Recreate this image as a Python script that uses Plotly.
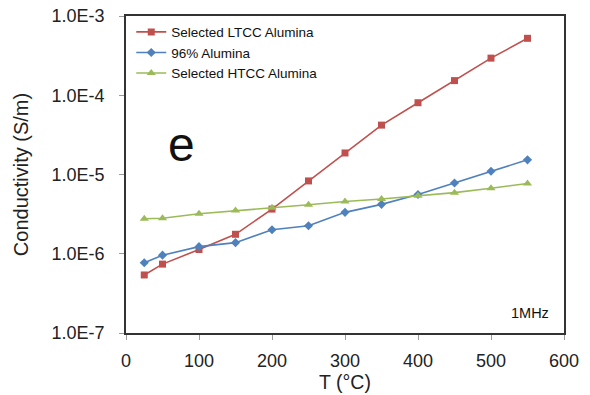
import plotly.graph_objects as go

temps = [25, 50, 100, 150, 200, 250, 300, 350, 400, 450, 500, 550]
ltcc = [5.4e-7, 7.4e-7, 1.13e-6, 1.76e-6, 3.66e-6, 8.3e-6, 1.87e-5, 4.2e-5, 8.05e-5, 1.53e-4, 2.94e-4, 5.23e-4]
alumina96 = [7.7e-7, 9.6e-7, 1.23e-6, 1.38e-6, 2.01e-6, 2.26e-6, 3.33e-6, 4.2e-6, 5.6e-6, 7.8e-6, 1.1e-5, 1.53e-5]
htcc = [2.77e-6, 2.8e-6, 3.2e-6, 3.52e-6, 3.8e-6, 4.16e-6, 4.57e-6, 4.9e-6, 5.4e-6, 5.9e-6, 6.7e-6, 7.7e-6]

series_names = ["Selected LTCC Alumina", "96% Alumina", "Selected HTCC Alumina"]
y_tickvals = [1e-7, 1e-6, 1e-5, 1e-4, 1e-3]
y_ticktext = ["1.0E-7", "1.0E-6", "1.0E-5", "1.0E-4", "1.0E-3"]
x_tickvals = [0, 100, 200, 300, 400, 500, 600]

font = "Liberation Sans, Arial, sans-serif"

fig = go.Figure()
fig.add_trace(go.Scatter(x=temps, y=ltcc, name=series_names[0], mode="lines+markers",
                         line=dict(color="#C0504D", width=1.6),
                         marker=dict(symbol="square", size=7, color="#C0504D")))
fig.add_trace(go.Scatter(x=temps, y=alumina96, name=series_names[1], mode="lines+markers",
                         line=dict(color="#4F81BD", width=1.6),
                         marker=dict(symbol="diamond", size=7, color="#4F81BD")))
fig.add_trace(go.Scatter(x=temps, y=htcc, name=series_names[2], mode="lines+markers",
                         line=dict(color="#9BBB59", width=1.6),
                         marker=dict(symbol="triangle-up", size=8, color="#9BBB59")))

fig.update_layout(
    width=590, height=395,
    margin=dict(l=126, r=26, t=16, b=62),
    paper_bgcolor="white", plot_bgcolor="white",
    font=dict(family=font, color="#222"),
    legend=dict(x=0.012, y=0.998, xanchor="left", yanchor="top",
                font=dict(size=13.5, family=font, color="#111"),
                bgcolor="rgba(0,0,0,0)", itemwidth=30, tracegroupgap=0),
)
fig.add_annotation(text="e", x=(181 - 126) / 438, y=(333 - 144) / 317, xref="paper", yref="paper",
                   showarrow=False, xanchor="center", yanchor="middle",
                   font=dict(size=48, family=font, color="#111"))
fig.add_annotation(text="1MHz", x=(551 - 126) / 438, y=(333 - 313) / 317, xref="paper", yref="paper",
                   showarrow=False, xanchor="right", yanchor="middle",
                   font=dict(size=14.5, family=font, color="#111"))

fig.update_xaxes(range=[0, 600], tickvals=x_tickvals, showgrid=False, zeroline=False,
                 showline=True, linecolor="#333", linewidth=1.6, mirror=True, automargin=False,
                 ticks="outside", ticklen=5, tickcolor="#999", ticklabelstandoff=6,
                 tickfont=dict(size=18, family=font, color="#222"),
                 title=dict(text="T (°C)", font=dict(size=19.5, family=font, color="#222"), standoff=4))
fig.update_yaxes(type="log", range=[-7, -3], tickvals=y_tickvals, ticktext=y_ticktext,
                 showgrid=False, zeroline=False, automargin=False,
                 showline=True, linecolor="#333", linewidth=1.6, mirror=True,
                 ticks="outside", ticklen=5, tickcolor="#999", ticklabelstandoff=11,
                 tickfont=dict(size=18, family=font, color="#222"),
                 title=dict(text="Conductivity (S/m)", font=dict(size=20, family=font, color="#222"), standoff=18))

fig.write_html("out.html")
